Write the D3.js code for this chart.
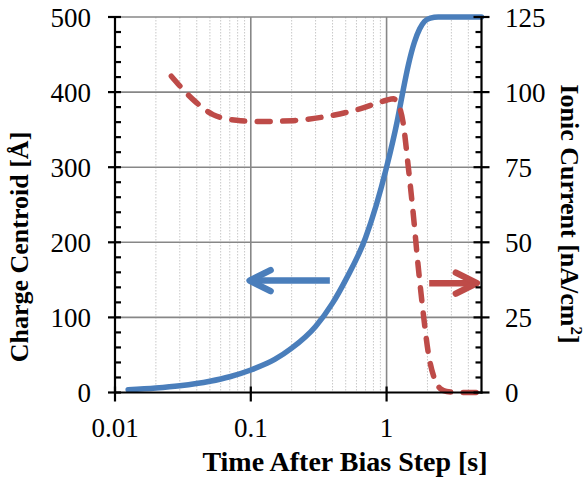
<!DOCTYPE html>
<html>
<head>
<meta charset="utf-8">
<script src="https://cdn.jsdelivr.net/npm/d3@7/dist/d3.min.js"></script>
<style>
  html, body { margin: 0; padding: 0; background: #fff; }
  svg { display: block; }
  text { font-family: "Liberation Serif", "Times New Roman", serif; fill: #000; }
</style>
</head>
<body>
<svg id="chart" width="585" height="477"></svg>
<script>
// ---- data ----
const centroidTime = [0.0125, 0.02, 0.03, 0.05, 0.07, 0.1, 0.15, 0.2, 0.3, 0.4, 0.5, 0.7, 1.0, 1.2, 1.3, 1.45, 1.6, 1.75, 1.9, 2.1, 2.4, 3.0, 5.0];
const centroidValue = [3.7, 6, 9, 15, 21, 30, 44, 59, 88, 119, 150, 206, 300, 362, 395, 437, 466, 484, 494, 498.5, 500, 500, 500];

const currentTime = [0.026, 0.0376, 0.0527, 0.0785, 0.1165, 0.205, 0.361, 0.636, 1.0, 1.12, 1.2, 1.325, 1.443, 1.57, 1.71, 1.862, 2.03, 2.27, 2.5, 2.77, 3.5, 4.75];
const currentValue = [105.3, 97.5, 92.5, 90.6, 90.2, 90.5, 91.9, 94.4, 97.3, 97.8, 96.5, 89.7, 75.3, 59.7, 41.9, 26.4, 13.1, 4.2, 1.2, 0.3, 0, 0];

const xTicks = [0.01, 0.1, 1];
const xTickLabels = ["0.01", "0.1", "1"];
const leftTicks = [0, 100, 200, 300, 400, 500];
const rightTicks = [0, 25, 50, 75, 100, 125];

// annotation arrows in data coordinates
const blueArrow = { from: 0.382, to: 0.098, value: 149 };   // left axis
const redArrow  = { from: 2.06, to: 4.62, value: 36.4 };    // right axis

// ---- layout ----
const svg = d3.select("#chart");
const L = 115, R = 481.5, T = 17, B = 392.5;

const x = d3.scaleLog().domain([0.01, 5]).range([L, R]);
const yL = d3.scaleLinear().domain([0, 500]).range([B, T]);
const yR = d3.scaleLinear().domain([0, 125]).range([B, T]);

const blue = "#4A7EBB", red = "#BE4B48";

// minor x gridlines
const minor = [];
[0.01, 0.1, 1].forEach(d => { for (let k = 2; k <= 9; k++) { const v = d * k; if (v < 5) minor.push(v); } });
svg.append("g").selectAll("line").data(minor).join("line")
  .attr("x1", d => x(d)).attr("x2", d => x(d)).attr("y1", T).attr("y2", B)
  .attr("stroke", "#c8c8c8").attr("stroke-width", 1).attr("stroke-dasharray", "1.5,1.5");

// major gridlines
svg.append("g").selectAll("line").data([0.1, 1]).join("line")
  .attr("x1", d => x(d)).attr("x2", d => x(d)).attr("y1", T).attr("y2", B)
  .attr("stroke", "#878787").attr("stroke-width", 1.6);
svg.append("g").selectAll("line").data([100, 200, 300, 400, 500]).join("line")
  .attr("x1", L).attr("x2", R).attr("y1", d => yL(d)).attr("y2", d => yL(d))
  .attr("stroke", "#878787").attr("stroke-width", 1.6);

// curves
const lineL = d3.line().x((d, i) => x(centroidTime[i])).y(d => yL(d)).curve(d3.curveMonotoneX);
const lineR = d3.line().x((d, i) => x(currentTime[i])).y(d => yR(d)).curve(d3.curveMonotoneX);

svg.append("path").attr("d", lineL(centroidValue))
  .attr("fill", "none").attr("stroke", blue).attr("stroke-width", 5.5).attr("stroke-linecap", "round");
svg.append("path").attr("d", lineR(currentValue))
  .attr("fill", "none").attr("stroke", red).attr("stroke-width", 5.5)
  .attr("stroke-dasharray", "13,12.5").attr("stroke-linecap", "round");

// arrows
function arrow(x1, x2, yy, color) {
  const dir = Math.sign(x2 - x1);
  const g = svg.append("g").attr("stroke", color).attr("stroke-width", 6.5)
    .attr("stroke-linecap", "round").attr("fill", "none");
  g.append("line").attr("x1", x1).attr("x2", x2).attr("y1", yy).attr("y2", yy).attr("stroke-linecap", "butt");
  g.append("path").attr("stroke-linejoin", "round")
    .attr("d", `M${x2 - dir * 21},${yy - 10.5}L${x2},${yy}L${x2 - dir * 21},${yy + 10.5}`);
}
arrow(x(blueArrow.from), x(blueArrow.to), yL(blueArrow.value), blue);
arrow(x(redArrow.from), x(redArrow.to), yR(redArrow.value), red);

// axes
const ax = svg.append("g").attr("stroke", "#000").attr("stroke-width", 2.2);
ax.append("line").attr("x1", L).attr("x2", L).attr("y1", T - 1).attr("y2", B + 1);
ax.append("line").attr("x1", R).attr("x2", R).attr("y1", T - 1).attr("y2", B + 1);
ax.append("line").attr("x1", L - 1).attr("x2", R + 1).attr("y1", B).attr("y2", B);

// left ticks
const leftMinor = d3.range(0, 501, 20).filter(v => v % 100 !== 0);
ax.selectAll(".lmaj").data(leftTicks).join("line")
  .attr("x1", L - 7).attr("x2", L + 6).attr("y1", d => yL(d)).attr("y2", d => yL(d));
ax.selectAll(".lmin").data(leftMinor).join("line").attr("class", "lmin")
  .attr("x1", L).attr("x2", L + 6).attr("y1", d => yL(d)).attr("y2", d => yL(d));
// right ticks
const rightMinor = d3.range(0, 126, 5).filter(v => v % 25 !== 0);
ax.selectAll(".rmaj").data(rightTicks).join("line").attr("class", "rmaj")
  .attr("x1", R - 8).attr("x2", R + 8).attr("y1", d => yR(d)).attr("y2", d => yR(d));
ax.selectAll(".rmin").data(rightMinor).join("line").attr("class", "rmin")
  .attr("x1", R - 6).attr("x2", R).attr("y1", d => yR(d)).attr("y2", d => yR(d));
// bottom ticks
ax.selectAll(".bmaj").data(xTicks).join("line").attr("class", "bmaj")
  .attr("x1", d => x(d)).attr("x2", d => x(d)).attr("y1", B - 6).attr("y2", B + 9);

// tick labels
svg.append("g").selectAll("text").data(leftTicks).join("text")
  .attr("x", 91).attr("y", d => yL(d) + 9.5).attr("text-anchor", "end")
  .attr("font-size", 27).text(d => d);
svg.append("g").selectAll("text").data(rightTicks).join("text")
  .attr("x", 505).attr("y", d => yR(d) + 9.5).attr("text-anchor", "start")
  .attr("font-size", 27).text(d => d);
svg.append("g").selectAll("text").data(xTicks).join("text")
  .attr("x", d => x(d)).attr("y", 437).attr("text-anchor", "middle")
  .attr("font-size", 27).text((d, i) => xTickLabels[i]);

// axis titles
svg.append("text").attr("x", 345).attr("y", 471).attr("text-anchor", "middle")
  .attr("font-size", 28).attr("font-weight", "bold").text("Time After Bias Step [s]");
svg.append("text").attr("transform", "translate(28,247) rotate(-90)").attr("text-anchor", "middle")
  .attr("font-size", 26).attr("font-weight", "bold").text("Charge Centroid [Å]");
const rt = svg.append("text").attr("transform", "translate(561,214) rotate(90)").attr("text-anchor", "middle")
  .attr("font-size", 26).attr("font-weight", "bold");
rt.append("tspan").text("Ionic Current [nA/cm");
rt.append("tspan").attr("font-size", 17).attr("dy", -10).text("2");
rt.append("tspan").attr("dy", 10).text("]");
</script>
</body>
</html>
